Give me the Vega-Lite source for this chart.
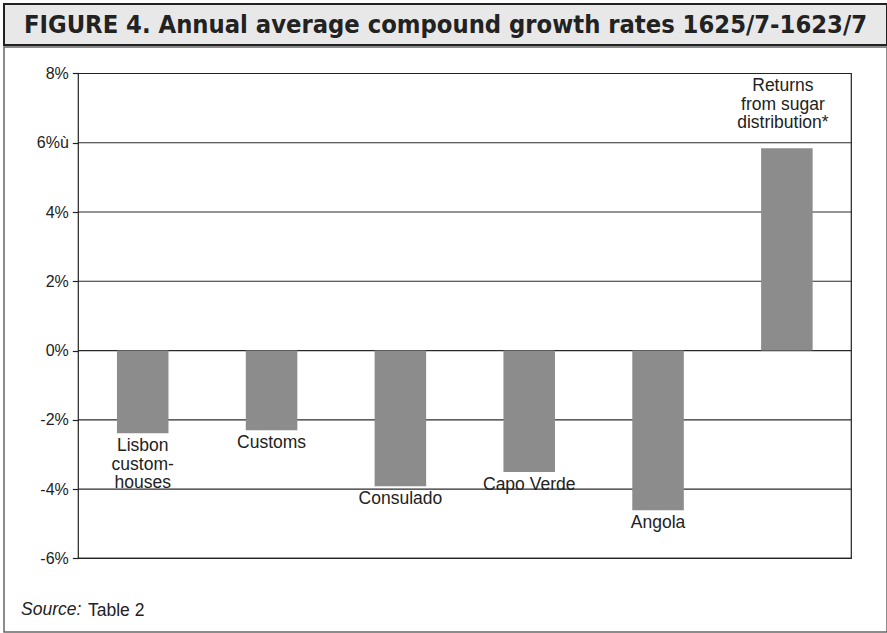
{
  "$schema": "https://vega.github.io/schema/vega-lite/v6.json",
  "padding": {"left": 3, "top": 3, "right": 1, "bottom": 2},
  "background": "white",
  "spacing": 0,
  "config": {"font": "Liberation Sans", "concat": {"spacing": 0}},
  "title": {"text": "Table 2", "orient": "bottom", "anchor": "start", "frame": "group", "dx": 84, "offset": -17, "baseline": "alphabetic", "font": "Liberation Sans", "fontSize": 17.5, "fontWeight": "normal", "color": "#222"},
  "vconcat": [
    {
      "width": 883,
      "height": 41,
      "view": {"fill": "#e8e8e8", "stroke": "#222", "strokeWidth": 2},
      "data": {"values": [{"t": "FIGURE 4. Annual average compound growth rates 1625/7-1623/7"}]},
      "mark": {"type": "text", "font": "DejaVu Sans Condensed, Liberation Sans", "fontWeight": "bold", "fontSize": 25.3, "color": "#222", "baseline": "middle", "align": "center"},
      "encoding": {"text": {"field": "t"}}
    },
    {
      "width": 883,
      "height": 585,
      "view": {"fill": "white", "stroke": "#666", "strokeWidth": 1.5},
      "title": {"text": "Source:", "orient": "bottom", "anchor": "start", "frame": "group", "dx": 17, "offset": -17, "baseline": "alphabetic", "font": "Liberation Sans", "fontStyle": "italic", "fontWeight": "normal", "fontSize": 17.5, "color": "#222"},
      "data": {"values": [
        {"cat": "Lisbon custom-houses", "label": "Lisbon\ncustom-\nhouses", "value": -2.39},
        {"cat": "Customs", "label": "Customs", "value": -2.30},
        {"cat": "Consulado", "label": "Consulado", "value": -3.92},
        {"cat": "Capo Verde", "label": "Capo Verde", "value": -3.51},
        {"cat": "Angola", "label": "Angola", "value": -4.61},
        {"cat": "Returns from sugar distribution*", "label": "Returns\nfrom sugar\ndistribution*", "value": 5.84}
      ]},
      "layer": [
        {
          "layer": [
            {
              "data": {"values": [{"g": -6}, {"g": -4}, {"g": -2}, {"g": 0}, {"g": 2}, {"g": 4}, {"g": 6}, {"g": 8}]},
              "mark": {"type": "rule", "color": "#2a2a2a", "strokeWidth": 1.2},
              "encoding": {
                "x": {"datum": 0, "type": "quantitative", "scale": {"domain": [-0.09612, 1.04618], "nice": false, "zero": false}, "axis": null},
                "x2": {"datum": 1},
                "y": {"field": "g", "type": "quantitative", "title": null,
                  "scale": {"domain": [-8.128, 8.765], "nice": false, "zero": false},
                  "axis": {"orient": "left", "offset": -74.3, "values": [-6, -4, -2, 0, 2, 4, 6, 8], "domain": false, "grid": false, "ticks": true, "tickSize": 6, "tickColor": "#222", "tickWidth": 1.2, "labelFont": "Liberation Sans", "labelFontSize": 16, "labelColor": "#222", "labelPadding": 4, "labelExpr": "datum.value == 6 ? '6%ù' : datum.value + '%'", "title": null}}
              }
            },
            {
              "data": {"values": [{"box": 1}]},
              "mark": {"type": "rect", "filled": false, "stroke": "#222", "strokeWidth": 1.2},
              "encoding": {
                "x": {"datum": 0, "type": "quantitative"},
                "x2": {"datum": 1},
                "y": {"datum": -6, "type": "quantitative", "title": null},
                "y2": {"datum": 8}
              }
            }
          ]
        },
        {
          "layer": [
            {
              "mark": {"type": "bar", "color": "#8c8c8c"},
              "encoding": {
                "x": {"field": "cat", "type": "nominal", "sort": null, "axis": null,
                  "scale": {"paddingInner": 0.6, "paddingOuter": 0.72695, "align": 0.60304}},
                "y": {"field": "value", "type": "quantitative", "title": null}
              }
            },
            {
              "transform": [{"filter": "datum.value < 0"}],
              "mark": {"type": "text", "baseline": "top", "align": "center", "dy": 4, "fontSize": 17.5, "font": "Liberation Sans", "color": "#222", "lineBreak": "\n", "lineHeight": 18.5},
              "encoding": {
                "x": {"field": "cat", "type": "nominal", "sort": null},
                "y": {"field": "value", "type": "quantitative", "title": null},
                "text": {"field": "label"}
              }
            },
            {
              "transform": [{"filter": "datum.value >= 0"}],
              "mark": {"type": "text", "baseline": "bottom", "align": "center", "dy": -53, "dx": -4, "fontSize": 17.5, "font": "Liberation Sans", "color": "#222", "lineBreak": "\n", "lineHeight": 18.5},
              "encoding": {
                "x": {"field": "cat", "type": "nominal", "sort": null},
                "y": {"field": "value", "type": "quantitative", "title": null},
                "text": {"field": "label"}
              }
            }
          ]
        }
      ],
      "resolve": {"scale": {"x": "independent"}, "axis": {"x": "independent"}}
    }
  ]
}
